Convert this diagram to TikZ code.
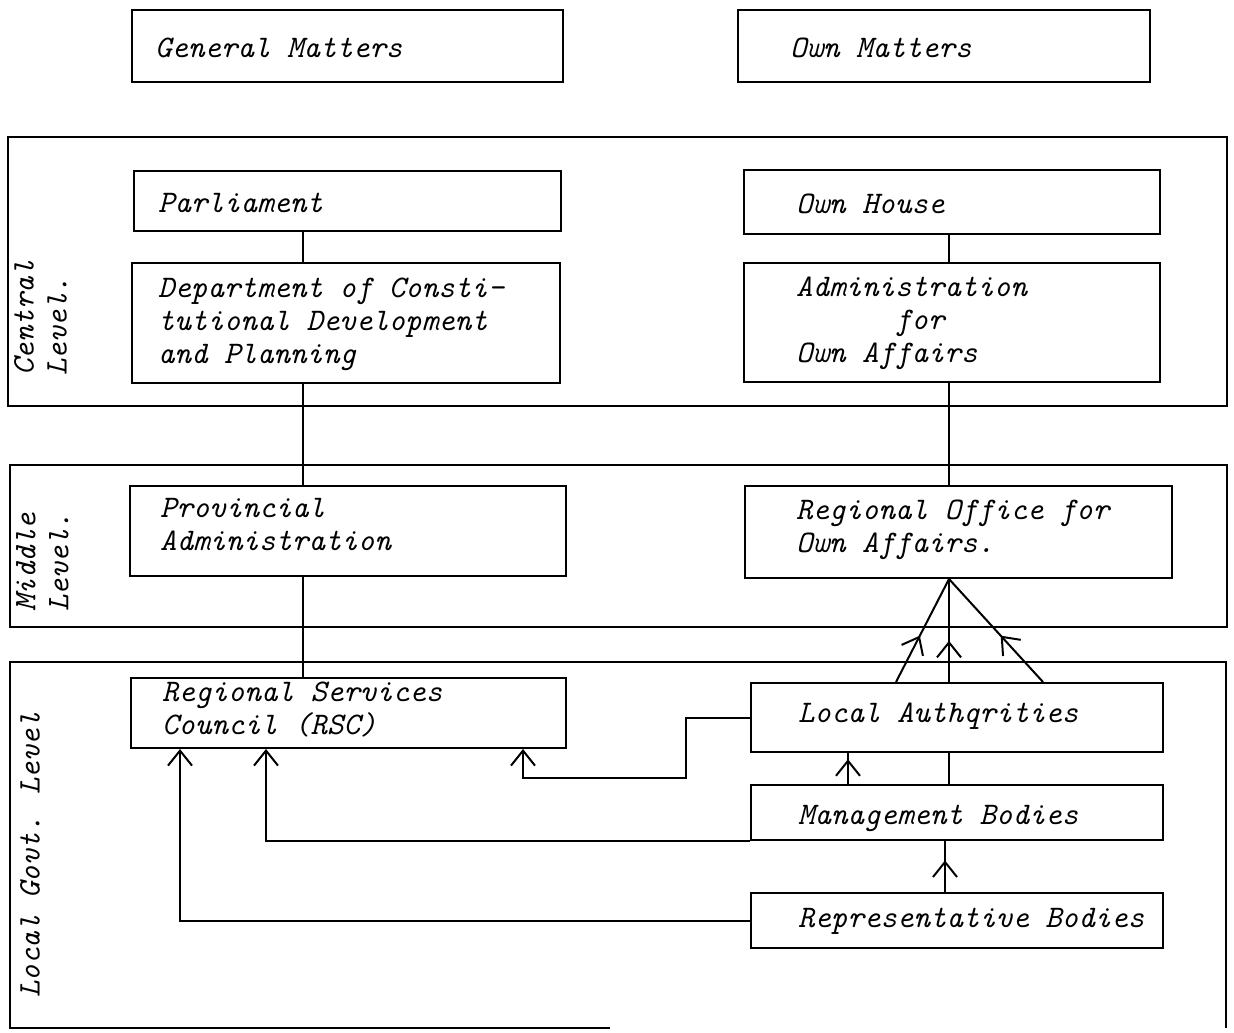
\documentclass[tikz,border=0pt]{standalone}
\usepackage{fontspec}
\usetikzlibrary{arrows.meta,decorations.markings}
\begin{document}
\begin{tikzpicture}[x=1pt,y=-1pt,
  every node/.style={font=\ttfamily\fontsize{31.4}{33}\selectfont\itshape\addfontfeatures{FakeBold=1.2}},
  frame/.style={line width=2pt},
  box/.style={draw, line width=2pt, rectangle, inner sep=0pt},
  lbl/.style={anchor=west, align=left, inner sep=0pt},
  one/.style={lbl, text height=23pt, text depth=10pt},
  side/.style={rotate=90, anchor=north west, align=left, inner sep=0pt},
  link/.style={line width=2pt},
  barb/.style={-{Straight Barb[length=15pt,width=24pt]}},
  midbarb/.style={postaction={decorate},
    decoration={markings, mark=at position #1 with {\arrow{Straight Barb[length=15pt,width=24pt]}}}},
]
\useasboundingbox[fill=white] (0,0) rectangle (1234,1033);

% level bands
\draw[frame] (8,137) rectangle (1227,406);
\draw[frame] (10,465) rectangle (1227,627);
\draw[frame] (610,1028) -- (10,1028) -- (10,662) -- (1226,662) -- (1226,1028);
\node[side] (lv-c) at (14,376) {Central\\Level.};
\node[side] (lv-m) at (16,612) {Middle\\Level.};
\node[side] (lv-l) at (20,998) {Local Govt. Level};

% heading boxes
\node[box, minimum width=431pt, minimum height=72pt] (gm) at (347.5,46) {};
\node[one] (gm-t) at (155,51) {General Matters};
\node[box, minimum width=412pt, minimum height=72pt] (om) at (944,46) {};
\node[one] (om-t) at (790,51) {Own Matters};

% central level
\node[box, minimum width=427pt, minimum height=60pt] (parl) at (347.5,201) {};
\node[one] (parl-t) at (158,206) {Parliament};
\node[box, minimum width=428pt, minimum height=120pt] (dept) at (346,323) {};
\node[lbl] (dept-t) at (158,324) {Department of Consti-\\tutional Development\\and Planning};
\node[box, minimum width=416pt, minimum height=64pt] (oh) at (952,202) {};
\node[one] (oh-t) at (796,207) {Own House};
\node[box, minimum width=416pt, minimum height=119pt] (adm) at (952,322.5) {};
\node[lbl] (adm-t) at (796,323.5) {Administration\\\phantom{Admini}for\\Own Affairs};

% middle level
\node[box, minimum width=436pt, minimum height=90pt] (prov) at (348,531) {};
\node[lbl] (prov-t) at (160,524) {Provincial\\Administration};
\node[box, minimum width=427pt, minimum height=92pt] (reg) at (958.5,532) {};
\node[lbl] (reg-t) at (796,529.5) {Regional Office for\\Own Affairs.};

% local government level
\node[box, minimum width=435pt, minimum height=70pt] (rsc) at (348.5,713) {};
\node[lbl] (rsc-t) at (162,710) {Regional Services\\Council (RSC)};
\node[box, minimum width=412pt, minimum height=69pt] (la) at (957,717.5) {};
\node[one] (la-t) at (798,716) {Local Authqrities};
\node[box, minimum width=412pt, minimum height=55pt] (mb) at (957,812.5) {};
\node[one] (mb-t) at (798,818) {Management Bodies};
\node[box, minimum width=412pt, minimum height=55pt] (rb) at (957,920.5) {};
\node[one] (rb-t) at (798,921) {Representative Bodies};

% connector columns
\coordinate (xl) at (303,0);
\coordinate (xr) at (949,0);
\coordinate (tl) at (896,0);
\coordinate (tr) at (1043,0);
\coordinate (xm) at (848,0);
\coordinate (xb) at (945,0);
\coordinate (j1) at (686,778);
\coordinate (j2) at (523,0);
\coordinate (j3) at (266,0);
\coordinate (j4) at (180,0);

% vertical chains
\draw[link] (parl.south -| xl) -- (dept.north -| xl);
\draw[link] (dept.south -| xl) -- (prov.north -| xl);
\draw[link] (prov.south -| xl) -- (rsc.north -| xl);
\draw[link] (oh.south -| xr) -- (adm.north -| xr);
\draw[link] (adm.south -| xr) -- (reg.north -| xr);

% local authorities up to the regional office
\coordinate (apex) at (reg.south -| xr);
\draw[link, midbarb=0.45] (la.north -| tl) -- (apex);
\draw[link, midbarb=0.4] (la.north -| xr) -- (apex);
\draw[link, midbarb=0.45] (la.north -| tr) -- (apex);

% links inside the local level
\draw[link] (la.south -| xr) -- (mb.north -| xr);
\draw[link, midbarb=0.8] (mb.north -| xm) -- (la.south -| xm);
\draw[link, midbarb=0.62] (rb.north -| xb) -- (mb.south -| xb);

% feeds into the regional services council
\draw[link, barb] (la.west) -| (j1) -| (rsc.south -| j2);
\draw[link, barb] (mb.south west) -| (rsc.south -| j3);
\draw[link, barb] (rb.west) -| (rsc.south -| j4);
\end{tikzpicture}
\end{document}
